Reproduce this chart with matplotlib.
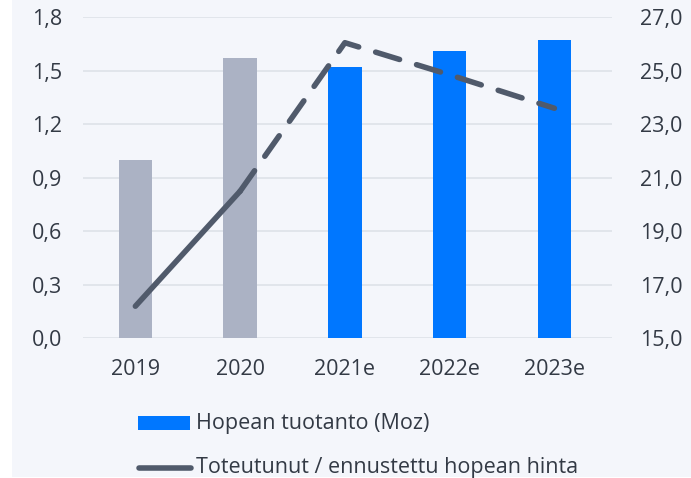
import matplotlib as mpl
import matplotlib.pyplot as plt
from matplotlib.lines import Line2D
from matplotlib.patches import Rectangle

# data
years = ["2019", "2020", "2021e", "2022e", "2023e"]
production = [1.00, 1.57, 1.52, 1.61, 1.67]        # Moz, left axis
price = [16.2, 20.5, 26.05, 24.85, 23.6]            # right axis
actual_n = 2                                         # first two are actuals
left_ticks = [0.0, 0.3, 0.6, 0.9, 1.2, 1.5, 1.8]
right_ticks = [15.0, 17.0, 19.0, 21.0, 23.0, 25.0, 27.0]
legend_labels = ["Hopean tuotanto (Moz)", "Toteutunut / ennustettu hopean hinta"]

BG = "#F4F6FB"
GREY_BAR = "#ABB2C4"
BLUE = "#0077FF"
LINE = "#505A6B"
GRID = "#DEE2E8"
INK = "#333A45"
FS = 15.5

mpl.rcParams.update({
    "font.family": ["Open Sans", "DejaVu Sans"],
    "font.size": FS,
})


def fmt(v, nd):
    return f"{v:.{nd}f}".replace(".", ",")


W, H = 691, 478
fig = plt.figure(figsize=(W / 100, H / 100), dpi=100)
fig.patch.set_facecolor("white")
fig.patches.append(Rectangle((12 / W, 1 / H), 1, 1, transform=fig.transFigure,
                             facecolor=BG, edgecolor="none", zorder=-10))

ax = fig.add_axes([83 / W, 1 - 338.3 / H, 529 / W, 321 / H])
ax.set_facecolor("none")
x = list(range(len(years)))
colors = [GREY_BAR] * actual_n + [BLUE] * (len(years) - actual_n)
ax.bar(x, production, width=0.32, color=colors, zorder=2)
ax.set_xlim(-0.5, 4.55)
ax.set_ylim(left_ticks[0], left_ticks[-1])
ax.set_yticks(left_ticks)
ax.set_yticklabels([fmt(v, 1) for v in left_ticks])
ax.set_xticks(x)
ax.set_xticklabels(years)
ax.grid(axis="y", color=GRID, lw=1.2, zorder=0)
ax.set_axisbelow(True)
for s in ax.spines.values():
    s.set_visible(False)
ax.tick_params(length=0, colors=INK, labelsize=FS)
ax.tick_params(axis="y", pad=15)
ax.tick_params(axis="x", pad=15)

ax2 = ax.twinx()
ax2.set_ylim(right_ticks[0], right_ticks[-1])
ax2.set_yticks(right_ticks)
ax2.set_yticklabels([fmt(v, 1) for v in right_ticks])
for s in ax2.spines.values():
    s.set_visible(False)
ax2.tick_params(length=0, colors=INK, labelsize=FS, pad=20)
ax2.plot(x[:actual_n], price[:actual_n], color=LINE, lw=4,
         solid_capstyle="round", zorder=3)
ax2.plot(x[actual_n - 1:], price[actual_n - 1:], color=LINE, lw=4,
         dashes=(4.5, 3.2), dash_capstyle="round", zorder=3)

# legend, drawn by hand in figure pixels
fig.patches.append(Rectangle((138 / W, 1 - 430 / H), 52 / W, 14 / H,
                             transform=fig.transFigure, facecolor=BLUE,
                             edgecolor="none"))
fig.lines.append(Line2D([139 / W, 191 / W], [1 - 468 / H, 1 - 468 / H],
                        transform=fig.transFigure, color=LINE, lw=4,
                        solid_capstyle="round"))
fig.text(196 / W, 1 - 423 / H, legend_labels[0], ha="left", va="center",
         color=INK, fontsize=FS)
fig.text(196 / W, 1 - 467 / H, legend_labels[1], ha="left", va="center",
         color=INK, fontsize=FS)

fig.savefig("out.png", dpi=100, facecolor="white")
